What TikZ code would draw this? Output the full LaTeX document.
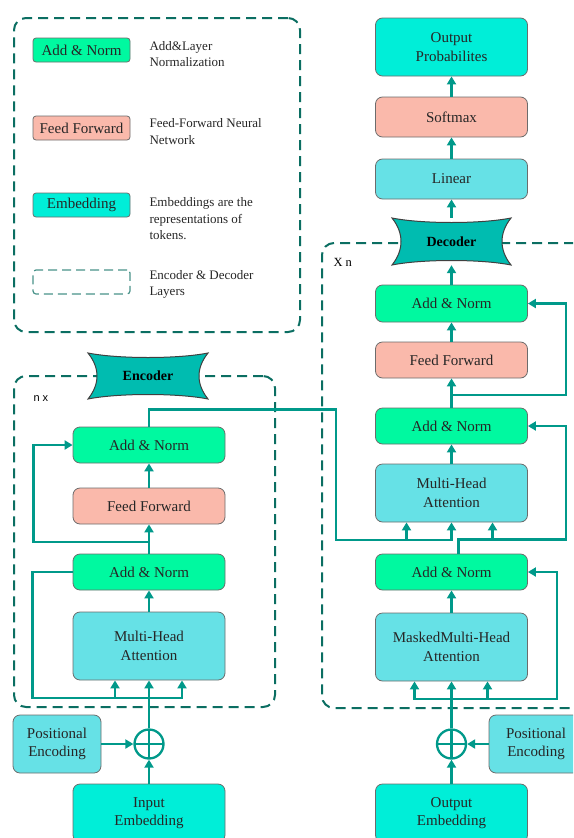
\documentclass[tikz,border=0pt]{standalone}
\usepackage{fontspec}
\setmainfont{Liberation Serif}
\newfontfamily\labelsans{Liberation Sans}
\usepackage{tikz}
\usetikzlibrary{arrows.meta}
\definecolor{normgreen}{HTML}{00F9A0}
\definecolor{ffsalmon}{HTML}{FAB9AB}
\definecolor{embcyan}{HTML}{00EED8}
\definecolor{attcyan}{HTML}{66E1E6}
\definecolor{bannerteal}{HTML}{00BCB0}
\definecolor{wireteal}{HTML}{00998A}
\definecolor{layerteal}{HTML}{0B6E62}

\begin{document}
\begin{tikzpicture}[x=1pt,y=-1pt,font=\fontsize{15}{18.5}\selectfont]
    \tikzstyle{block}=[draw=gray!85!black, line width=0.8pt, rounded corners=7pt, minimum width=152pt, align=center, inner sep=1pt, text=black!85]
    \tikzstyle{norm}=[block, fill=normgreen, minimum height=36pt]
    \tikzstyle{ffn}=[block, fill=ffsalmon, minimum height=36pt]
    \tikzstyle{att}=[block, fill=attcyan]
    \tikzstyle{emb}=[block, fill=embcyan]
    \tikzstyle{keybox}=[minimum width=97pt, minimum height=24pt, rounded corners=3pt]
    \tikzstyle{keytext}=[anchor=west, align=left, font=\fontsize{13}{16.5}\selectfont, text=black!85]
    \tikzstyle{layerframe}=[draw=layerteal, line width=2pt, dash pattern=on 10pt off 6pt, rounded corners=12pt, inner sep=0pt]
    \tikzstyle{bannershape}=[fill=bannerteal, draw=black!75, line width=1pt]
    \tikzstyle{bannertext}=[minimum width=120pt, minimum height=47pt, inner sep=0pt, font=\bfseries\fontsize{14}{16}\selectfont]
    \tikzstyle{wire}=[draw=wireteal, line width=2.3pt]
    \tikzstyle{arrow}=[wire, -{Triangle[length=8pt,width=9pt]}]
    \tikzstyle{plus}=[circle, draw=wireteal, line width=2.3pt, minimum size=29pt, inner sep=0pt,
        path picture={\draw[wireteal, line width=2.3pt] (path picture bounding box.north) -- (path picture bounding box.south) (path picture bounding box.west) -- (path picture bounding box.east);}]

    \useasboundingbox (0,0) rectangle (573,838);
    \clip (0,0) rectangle (573,838);

    % legend
    \node[layerframe, minimum width=286pt, minimum height=314pt] (legend) at (157,175) {};
    \node[norm, keybox] (keynorm) at (81.5,50) {Add \& Norm};
    \node[ffn, keybox] (keyffn) at (81.5,128) {Feed Forward};
    \node[emb, keybox] (keyemb) at (81.5,205) {Embedding};
    \node[keybox, draw=layerteal!75, line width=1.2pt, dash pattern=on 9pt off 5pt] (keylayer) at (81.5,282) {};
    \node[keytext] (keynormtext) at (146,54) {Add\&Layer\\Normalization};
    \node[keytext] (keyffntext) at (146,131.5) {Feed-Forward Neural\\Network};
    \node[keytext] (keyembtext) at (146,219) {Embeddings are the\\representations of\\tokens.};
    \node[keytext] (keylayertext) at (146,284.5) {Encoder \& Decoder\\Layers};

    % layer frames and banners
    \node[layerframe, minimum width=261pt, minimum height=331pt] (encframe) at (144.5,541.5) {};
    \node[layerframe, minimum width=280pt, minimum height=465pt] (decframe) at (462,475.5) {};
    \filldraw[bannershape] (88,353) .. controls +(30,6) and +(-30,6) .. (208,353)
        .. controls +(-12,15) and +(-12,-15) .. (208,399)
        .. controls +(-30,-6) and +(30,-6) .. (88,399)
        .. controls +(12,-15) and +(12,15) .. (88,353) -- cycle;
    \node[bannertext] (encoder) at (148,376) {Encoder};
    \filldraw[bannershape] (392,218) .. controls +(30,6) and +(-30,6) .. (511,218)
        .. controls +(-12,15) and +(-12,-15) .. (511,265)
        .. controls +(-30,-6) and +(30,-6) .. (392,265)
        .. controls +(12,-15) and +(12,15) .. (392,218) -- cycle;
    \node[bannertext] (decoder) at (451.5,241.5) {Decoder};
    \node[anchor=west, font=\labelsans\fontsize{11}{13}\selectfont] (encrepeat) at (30,399) {n x};
    \node[anchor=west, font=\fontsize{12.5}{14}\selectfont] (decrepeat) at (330,262) {X n};

    % encoder
    \node[emb, minimum height=58pt] (inemb) at (149,813) {Input\\Embedding};
    \node[att, minimum width=88pt, minimum height=58pt] (encpos) at (57,744) {Positional\\Encoding};
    \node[plus] (encplus) at (149,744) {};
    \node[att, minimum height=68pt] (encmha) at (149,646) {Multi-Head\\Attention};
    \node[norm] (encan1) at (149,572) {Add \& Norm};
    \node[ffn] (encff) at (149,506) {Feed Forward};
    \node[norm] (encan2) at (149,445) {Add \& Norm};

    % decoder
    \node[emb, minimum height=58pt] (outemb) at (451.5,813) {Output\\Embedding};
    \node[att, minimum width=94pt, minimum height=58pt] (decpos) at (536,744) {Positional\\Encoding};
    \node[plus] (decplus) at (451.5,744) {};
    \node[att, minimum height=68pt] (decmmha) at (451.5,647) {MaskedMulti-Head\\Attention};
    \node[norm] (decan1) at (451.5,572) {Add \& Norm};
    \node[att, minimum height=58pt] (decmha) at (451.5,493) {Multi-Head\\Attention};
    \node[norm] (decan2) at (451.5,426) {Add \& Norm};
    \node[ffn] (decff) at (451.5,360) {Feed Forward};
    \node[norm, minimum height=37pt] (decan3) at (451.5,303.5) {Add \& Norm};
    \node[att, minimum height=40pt] (linear) at (451.5,179) {Linear};
    \node[ffn, minimum height=40pt] (softmax) at (451.5,117) {Softmax};
    \node[emb, minimum height=58pt] (outprob) at (451.5,47) {Output\\Probabilites};

    \coordinate (encsplit) at (149,698);
    \coordinate (encres) at (149,542);
    \coordinate (memdrop) at (336,540);
    \coordinate (decsplit) at (451.5,699);
    \coordinate (decres) at (451.5,395);

    % encoder wiring
    \draw[arrow] (inemb) -- (encplus);
    \draw[arrow] (encpos) -- (encplus);
    \draw[arrow] (encplus) -- (encmha);
    \draw[arrow] (encsplit) -| ([xshift=-34pt]encmha.south);
    \draw[arrow] (encsplit) -| ([xshift=33pt]encmha.south);
    \draw[wire] (encsplit) -| ([xshift=-40pt]encan1.west) -- (encan1.west);
    \draw[arrow] (encmha) -- (encan1);
    \draw[arrow] (encan1) -- (encff);
    \draw[arrow] (encres) -| ([xshift=-39pt]encan2.west) -- (encan2.west);
    \draw[arrow] (encff) -- (encan2);
    \draw[arrow] (encan2.north) -- ++(0,-17) -| (memdrop) -| (decmha.south);
    \draw[arrow] (memdrop) -| ([xshift=-45pt]decmha.south);

    % decoder wiring
    \draw[arrow] (outemb) -- (decplus);
    \draw[arrow] (decpos) -- (decplus);
    \draw[arrow] (decplus) -- (decmmha);
    \draw[arrow] (decsplit) -| ([xshift=-37pt]decmmha.south);
    \draw[arrow] (decsplit) -| ([xshift=36pt]decmmha.south);
    \draw[arrow] (decsplit) -| ([xshift=29pt]decan1.east) -- (decan1.east);
    \draw[arrow] (decmmha) -- (decan1);
    \draw[arrow] ([xshift=7pt]decan1.north) -- ++(0,-14) -| ([xshift=41pt]decmha.south);
    \draw[arrow] ([xshift=7pt]decan1.north) -- ++(0,-14) -| ([xshift=38pt]decan2.east) -- (decan2.east);
    \draw[arrow] (decmha) -- (decan2);
    \draw[arrow] (decan2) -- (decff);
    \draw[arrow] (decres) -| ([xshift=38pt]decan3.east) -- (decan3.east);
    \draw[arrow] (decff) -- (decan3);
    \draw[arrow] (decan3) -- (decoder);
    \draw[arrow] (decoder) -- (linear);
    \draw[arrow] (linear) -- (softmax);
    \draw[arrow] (softmax) -- (outprob);
\end{tikzpicture}
\end{document}
